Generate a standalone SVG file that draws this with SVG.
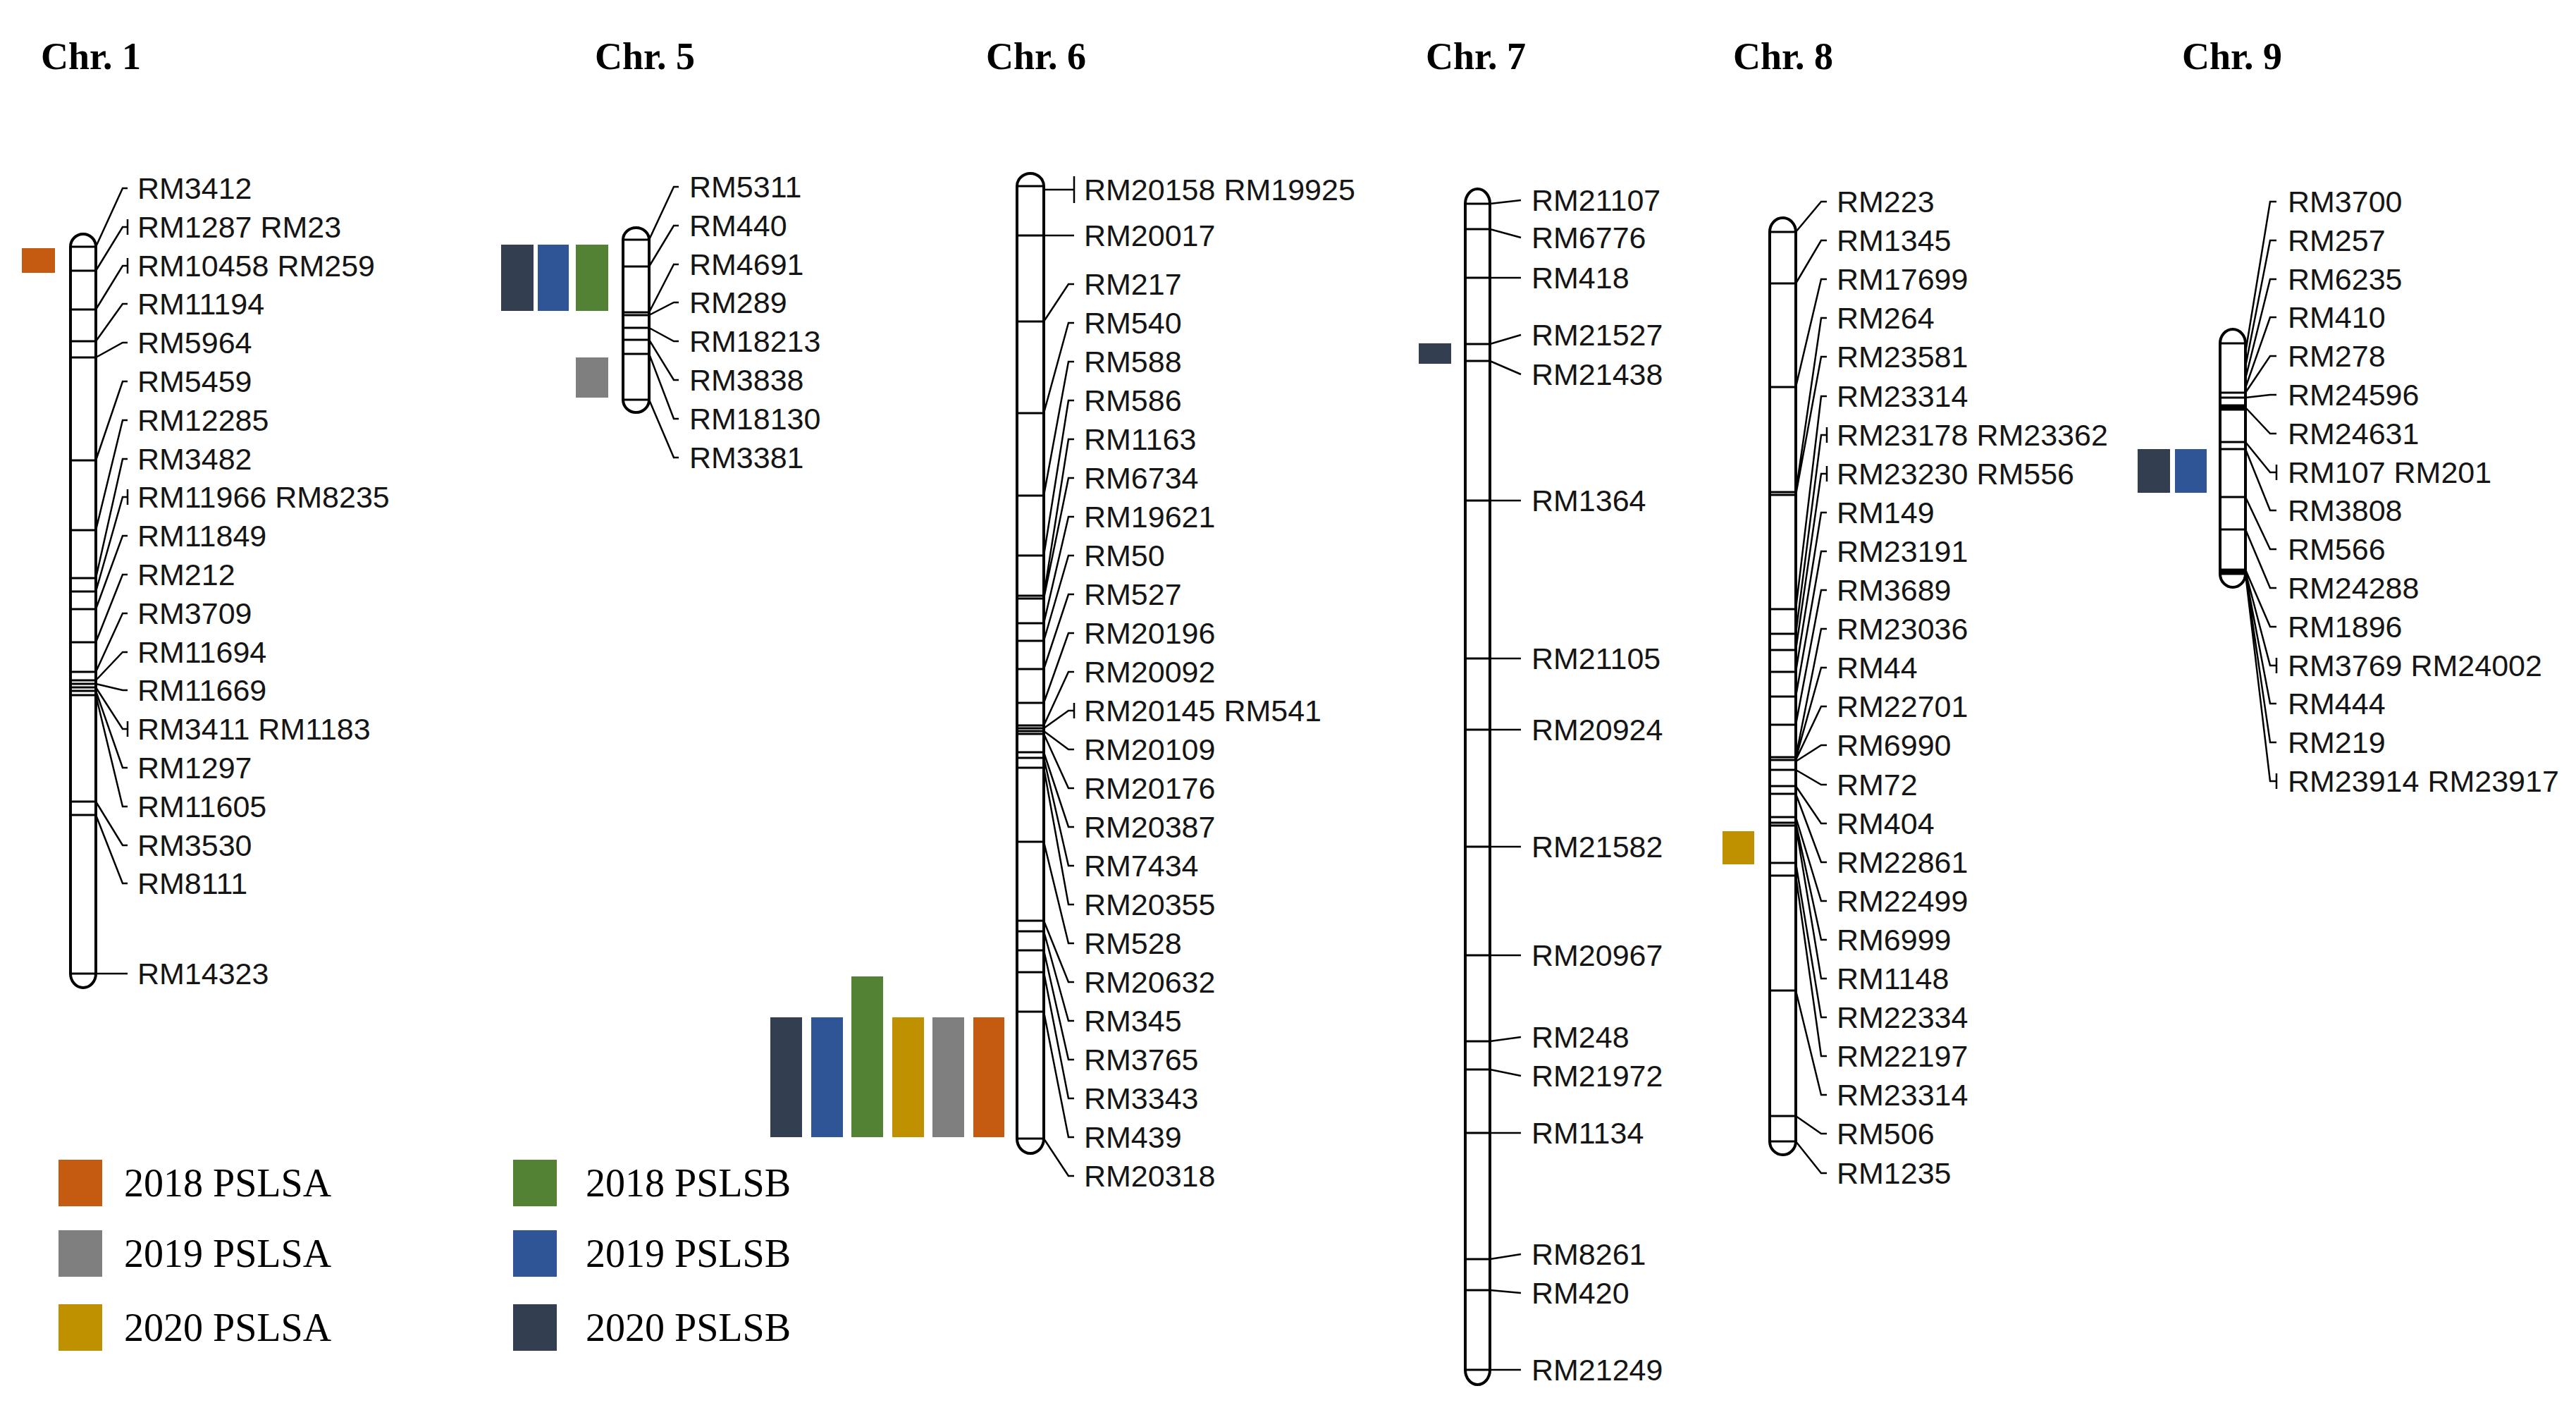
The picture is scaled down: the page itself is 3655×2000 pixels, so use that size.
<svg xmlns="http://www.w3.org/2000/svg" width="3655" height="2000" viewBox="0 0 3655 2000">
<style>
.chr{fill:#fff;stroke:#000;stroke-width:4}
.band{stroke:#000;stroke-width:3;fill:none}
.con{fill:none;stroke:#000;stroke-width:2.5}
.lbl{font-family:"Liberation Sans",Arial,sans-serif;font-size:43px;fill:#151515}
.ttl{font-family:"Liberation Serif","Times New Roman",serif;font-weight:bold;font-size:54px;fill:#000}
.leg{font-family:"Liberation Serif","Times New Roman",serif;font-size:56px;fill:#000}
.c18a{fill:#C55A11}.c19a{fill:#7F7F7F}.c20a{fill:#BF9000}
.c18b{fill:#548235}.c19b{fill:#2F5597}.c20b{fill:#333F50}
</style>
<rect width="3655" height="2000" fill="#fff"/>
<g id="titles">
<text class="ttl" x="58" y="98">Chr. 1</text>
<text class="ttl" x="844" y="98">Chr. 5</text>
<text class="ttl" x="1399" y="98">Chr. 6</text>
<text class="ttl" x="2023" y="98">Chr. 7</text>
<text class="ttl" x="2459" y="98">Chr. 8</text>
<text class="ttl" x="3096" y="98">Chr. 9</text>
</g>

<g id="connectors" class="con">
<!-- Chr1 -->
<path d="M136,350L174,267H181M136,384L174,322H181M181,311V333M136,439L174,377H181M181,366V388M136,484L174,431H181M136,507L174,486H181M136,653L174,541H181M136,752L174,596H181M136,820L174,651H181M136,839L174,705H181M181,694V716M136,864L174,760H181M136,911L174,815H181M136,953L174,870H181M136,965L174,925H181M136,970L174,979H181M136,975L174,1034H181M181,1023V1045M136,980L174,1089H181M136,986L174,1144H181M136,1137L174,1199H181M136,1156L174,1253H181M136,1381H181"/>
<!-- Chr5 -->
<path d="M921,340L956,265H963M921,378L956,320H963M921,443L956,375H963M921,447L956,429H963M921,465L956,484H963M921,482L956,539H963M921,502L956,594H963M921,567L956,649H963"/>
<!-- Chr6 -->
<path d="M1481,269H1524M1524,250V288M1481,334H1524M1481,456L1516,403H1524M1481,586L1516,458H1524M1481,703L1516,513H1524M1481,788L1516,568H1524M1481,845L1516,623H1524M1481,849L1516,678H1524M1481,884L1516,733H1524M1481,909L1516,788H1524M1481,949L1516,843H1524M1481,997L1516,898H1524M1481,1029L1516,953H1524M1481,1033L1516,1008H1524M1524,997V1019M1481,1037L1516,1063H1524M1481,1041L1516,1118H1524M1481,1067L1516,1173H1524M1481,1075L1516,1228H1524M1481,1089L1516,1283H1524M1481,1194L1516,1338H1524M1481,1306L1516,1393H1524M1481,1321L1516,1448H1524M1481,1348L1516,1503H1524M1481,1379L1516,1558H1524M1481,1435L1516,1613H1524M1481,1615L1516,1668H1524"/>
<!-- Chr7 -->
<path d="M2114,289L2158,284M2114,325L2158,337M2114,394H2158M2114,488L2158,475M2114,512L2158,531M2114,710H2158M2114,934H2158M2114,1035H2158M2114,1201H2158M2114,1355H2158M2114,1477L2158,1471M2114,1517L2158,1526M2114,1607H2158M2114,1786L2158,1779M2114,1830L2158,1834M2114,1943H2158"/>
<!-- Chr8 -->
<path d="M2548,329L2584,286H2592M2548,402L2584,341H2592M2548,549L2584,396H2592M2548,698L2584,451H2592M2548,702L2584,506H2592M2548,864L2584,562H2592M2548,899L2584,617H2592M2592,606V628M2548,922L2584,672H2592M2592,661V683M2548,953L2584,727H2592M2548,988L2584,782H2592M2548,1028L2584,837H2592M2548,1074L2584,892H2592M2548,1076L2584,947H2592M2548,1078L2584,1002H2592M2548,1080L2584,1057H2592M2548,1092L2584,1113H2592M2548,1115L2584,1168H2592M2548,1126L2584,1223H2592M2548,1159L2584,1278H2592M2548,1167L2584,1333H2592M2548,1171L2584,1388H2592M2548,1224L2584,1443H2592M2548,1242L2584,1498H2592M2548,1405L2584,1553H2592M2548,1583L2584,1608H2592M2548,1619L2584,1664H2592"/>
<!-- Chr9 -->
<path d="M3186,500L3221,286H3230M3186,520L3221,341H3230M3186,537L3221,396H3230M3186,550L3221,450H3230M3186,557L3221,505H3230M3186,564L3221,560H3230M3186,578L3221,615H3230M3186,627L3221,670H3230M3230,659V681M3186,637L3221,724H3230M3186,705L3221,779H3230M3186,751L3221,834H3230M3186,808L3221,889H3230M3186,811L3221,944H3230M3230,933V955M3186,814L3221,998H3230M3186,814L3221,1053H3230M3186,814L3221,1108H3230M3230,1097V1119"/>
</g>

<g id="chr1">
<path class="chr" d="M100,350A18,18 0 0 1 136,350V1381A18,20 0 0 1 100,1381Z"/>
<path class="band" d="M100,350H136M100,1381H136M100,384H136M100,439H136M100,484H136M100,507H136M100,653H136M100,752H136M100,820H136M100,839H136M100,864H136M100,911H136M100,953H136M100,965H136M100,970H136M100,975H136M100,980H136M100,986H136M100,1137H136M100,1156H136"/>
<g class="lbl">
<text x="195" y="282">RM3412</text>
<text x="195" y="337">RM1287 RM23</text>
<text x="195" y="392">RM10458 RM259</text>
<text x="195" y="446">RM11194</text>
<text x="195" y="501">RM5964</text>
<text x="195" y="556">RM5459</text>
<text x="195" y="611">RM12285</text>
<text x="195" y="666">RM3482</text>
<text x="195" y="720">RM11966 RM8235</text>
<text x="195" y="775">RM11849</text>
<text x="195" y="830">RM212</text>
<text x="195" y="885">RM3709</text>
<text x="195" y="940">RM11694</text>
<text x="195" y="994">RM11669</text>
<text x="195" y="1049">RM3411 RM1183</text>
<text x="195" y="1104">RM1297</text>
<text x="195" y="1159">RM11605</text>
<text x="195" y="1214">RM3530</text>
<text x="195" y="1268">RM8111</text>
<text x="195" y="1396">RM14323</text>
</g>
<rect class="c18a" x="31" y="352" width="47" height="35"/>
</g>

<g id="chr5">
<path class="chr" d="M884,340A18.5,17 0 0 1 921,340V567A18.5,18 0 0 1 884,567Z"/>
<path class="band" d="M884,340H921M884,567H921M884,378H921M884,443H921M884,447H921M884,465H921M884,482H921M884,502H921"/>
<g class="lbl">
<text x="978" y="280">RM5311</text>
<text x="978" y="335">RM440</text>
<text x="978" y="390">RM4691</text>
<text x="978" y="444">RM289</text>
<text x="978" y="499">RM18213</text>
<text x="978" y="554">RM3838</text>
<text x="978" y="609">RM18130</text>
<text x="978" y="664">RM3381</text>
</g>
<rect class="c20b" x="711" y="347" width="46" height="94"/>
<rect class="c19b" x="763" y="347" width="44" height="94"/>
<rect class="c18b" x="817" y="347" width="46" height="94"/>
<rect class="c19a" x="817" y="507" width="46" height="57"/>
</g>

<g id="chr6">
<path class="chr" d="M1443,264A19,18 0 0 1 1481,264V1615A19,21 0 0 1 1443,1615Z"/>
<path class="band" d="M1443,264H1481M1443,1615H1481M1443,334H1481M1443,456H1481M1443,586H1481M1443,703H1481M1443,788H1481M1443,845H1481M1443,849H1481M1443,884H1481M1443,909H1481M1443,949H1481M1443,997H1481M1443,1029H1481M1443,1033H1481M1443,1037H1481M1443,1041H1481M1443,1067H1481M1443,1075H1481M1443,1089H1481M1443,1194H1481M1443,1306H1481M1443,1321H1481M1443,1348H1481M1443,1379H1481M1443,1435H1481"/>
<g class="lbl">
<text x="1538" y="284">RM20158 RM19925</text>
<text x="1538" y="349">RM20017</text>
<text x="1538" y="418">RM217</text>
<text x="1538" y="473">RM540</text>
<text x="1538" y="528">RM588</text>
<text x="1538" y="583">RM586</text>
<text x="1538" y="638">RM1163</text>
<text x="1538" y="693">RM6734</text>
<text x="1538" y="748">RM19621</text>
<text x="1538" y="803">RM50</text>
<text x="1538" y="858">RM527</text>
<text x="1538" y="913">RM20196</text>
<text x="1538" y="968">RM20092</text>
<text x="1538" y="1023">RM20145 RM541</text>
<text x="1538" y="1078">RM20109</text>
<text x="1538" y="1133">RM20176</text>
<text x="1538" y="1188">RM20387</text>
<text x="1538" y="1243">RM7434</text>
<text x="1538" y="1298">RM20355</text>
<text x="1538" y="1353">RM528</text>
<text x="1538" y="1408">RM20632</text>
<text x="1538" y="1463">RM345</text>
<text x="1538" y="1518">RM3765</text>
<text x="1538" y="1573">RM3343</text>
<text x="1538" y="1628">RM439</text>
<text x="1538" y="1683">RM20318</text>
</g>
<rect class="c20b" x="1093" y="1443" width="45" height="170"/>
<rect class="c19b" x="1151" y="1443" width="45" height="170"/>
<rect class="c18b" x="1208" y="1385" width="45" height="228"/>
<rect class="c20a" x="1266" y="1443" width="45" height="170"/>
<rect class="c19a" x="1323" y="1443" width="45" height="170"/>
<rect class="c18a" x="1381" y="1443" width="44" height="170"/>
</g>

<g id="chr7">
<path class="chr" d="M2079,289A17.5,21 0 0 1 2114,289V1943A17.5,21 0 0 1 2079,1943Z"/>
<path class="band" d="M2079,289H2114M2079,1943H2114M2079,325H2114M2079,394H2114M2079,488H2114M2079,512H2114M2079,710H2114M2079,934H2114M2079,1035H2114M2079,1201H2114M2079,1355H2114M2079,1477H2114M2079,1517H2114M2079,1607H2114M2079,1786H2114M2079,1830H2114"/>
<g class="lbl">
<text x="2173" y="299">RM21107</text>
<text x="2173" y="352">RM6776</text>
<text x="2173" y="409">RM418</text>
<text x="2173" y="490">RM21527</text>
<text x="2173" y="546">RM21438</text>
<text x="2173" y="725">RM1364</text>
<text x="2173" y="949">RM21105</text>
<text x="2173" y="1050">RM20924</text>
<text x="2173" y="1216">RM21582</text>
<text x="2173" y="1370">RM20967</text>
<text x="2173" y="1486">RM248</text>
<text x="2173" y="1541">RM21972</text>
<text x="2173" y="1622">RM1134</text>
<text x="2173" y="1794">RM8261</text>
<text x="2173" y="1849">RM420</text>
<text x="2173" y="1958">RM21249</text>
</g>
<rect class="c20b" x="2013" y="487" width="46" height="29"/>
</g>

<g id="chr8">
<path class="chr" d="M2511,329A18.5,20 0 0 1 2548,329V1619A18.5,19 0 0 1 2511,1619Z"/>
<path class="band" d="M2511,329H2548M2511,1619H2548M2511,402H2548M2511,549H2548M2511,698H2548M2511,702H2548M2511,864H2548M2511,899H2548M2511,922H2548M2511,953H2548M2511,988H2548M2511,1028H2548M2511,1074H2548M2511,1078H2548M2511,1092H2548M2511,1115H2548M2511,1126H2548M2511,1159H2548M2511,1167H2548M2511,1171H2548M2511,1224H2548M2511,1242H2548M2511,1405H2548M2511,1583H2548"/>
<g class="lbl">
<text x="2606" y="301">RM223</text>
<text x="2606" y="356">RM1345</text>
<text x="2606" y="411">RM17699</text>
<text x="2606" y="466">RM264</text>
<text x="2606" y="521">RM23581</text>
<text x="2606" y="577">RM23314</text>
<text x="2606" y="632">RM23178 RM23362</text>
<text x="2606" y="687">RM23230 RM556</text>
<text x="2606" y="742">RM149</text>
<text x="2606" y="797">RM23191</text>
<text x="2606" y="852">RM3689</text>
<text x="2606" y="907">RM23036</text>
<text x="2606" y="962">RM44</text>
<text x="2606" y="1017">RM22701</text>
<text x="2606" y="1072">RM6990</text>
<text x="2606" y="1128">RM72</text>
<text x="2606" y="1183">RM404</text>
<text x="2606" y="1238">RM22861</text>
<text x="2606" y="1293">RM22499</text>
<text x="2606" y="1348">RM6999</text>
<text x="2606" y="1403">RM1148</text>
<text x="2606" y="1458">RM22334</text>
<text x="2606" y="1513">RM22197</text>
<text x="2606" y="1568">RM23314</text>
<text x="2606" y="1623">RM506</text>
<text x="2606" y="1679">RM1235</text>
</g>
<rect class="c20a" x="2444" y="1179" width="45" height="47"/>
</g>

<g id="chr9">
<path class="chr" d="M3150,487A18,20 0 0 1 3186,487V814A18,19 0 0 1 3150,814Z"/>
<path class="band" d="M3150,487H3186M3150,814H3186M3150,557H3186M3150,564H3186M3150,575H3186M3150,578H3186M3150,581H3186M3150,627H3186M3150,637H3186M3150,705H3186M3150,751H3186M3150,808H3186M3150,811H3186"/>
<g class="lbl">
<text x="3246" y="301">RM3700</text>
<text x="3246" y="356">RM257</text>
<text x="3246" y="411">RM6235</text>
<text x="3246" y="465">RM410</text>
<text x="3246" y="520">RM278</text>
<text x="3246" y="575">RM24596</text>
<text x="3246" y="630">RM24631</text>
<text x="3246" y="685">RM107 RM201</text>
<text x="3246" y="739">RM3808</text>
<text x="3246" y="794">RM566</text>
<text x="3246" y="849">RM24288</text>
<text x="3246" y="904">RM1896</text>
<text x="3246" y="959">RM3769 RM24002</text>
<text x="3246" y="1013">RM444</text>
<text x="3246" y="1068">RM219</text>
<text x="3246" y="1123">RM23914 RM23917</text>
</g>
<rect class="c20b" x="3033" y="637" width="46" height="62"/>
<rect class="c19b" x="3086" y="637" width="45" height="62"/>
</g>

<g id="legend">
<rect class="c18a" x="83" y="1645" width="62" height="66"/>
<text class="leg" x="176" y="1697">2018 PSLSA</text>
<rect class="c19a" x="83" y="1745" width="62" height="66"/>
<text class="leg" x="176" y="1797">2019 PSLSA</text>
<rect class="c20a" x="83" y="1850" width="62" height="66"/>
<text class="leg" x="176" y="1902">2020 PSLSA</text>
<rect class="c18b" x="728" y="1645" width="62" height="66"/>
<text class="leg" x="831" y="1697">2018 PSLSB</text>
<rect class="c19b" x="728" y="1745" width="62" height="66"/>
<text class="leg" x="831" y="1797">2019 PSLSB</text>
<rect class="c20b" x="728" y="1850" width="62" height="66"/>
<text class="leg" x="831" y="1902">2020 PSLSB</text>
</g>
</svg>
